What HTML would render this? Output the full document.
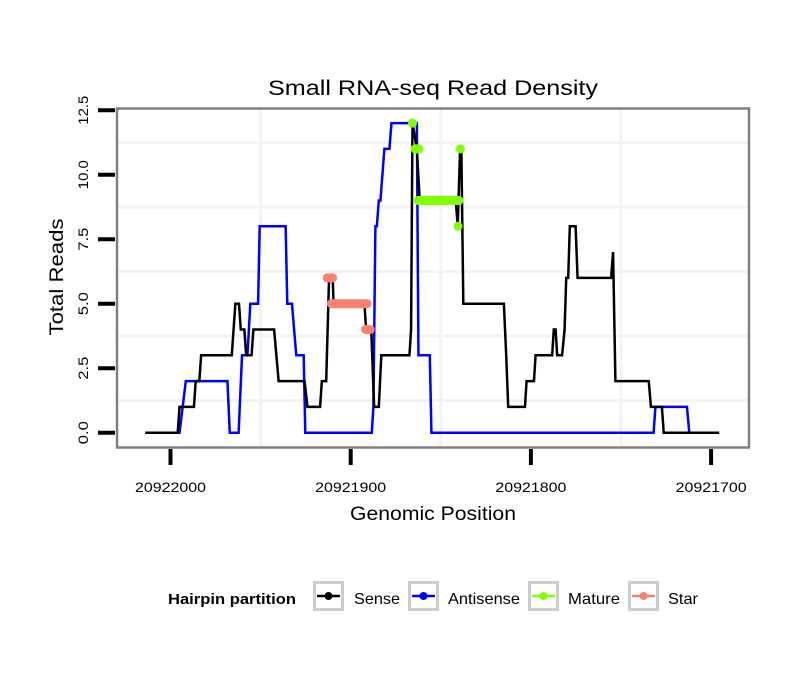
<!DOCTYPE html>
<html><head><meta charset="utf-8"><style>
body{margin:0;background:#fff;}
svg{display:block;font-family:"Liberation Sans",sans-serif;}
</style></head><body>
<svg id="chart" width="810" height="690" viewBox="0 0 810 690" xmlns="http://www.w3.org/2000/svg">
<rect x="0" y="0" width="810" height="690" fill="#fff"/>
<text x="433" y="95" font-size="21" text-anchor="middle" textLength="330" lengthAdjust="spacingAndGlyphs">Small RNA-seq Read Density</text>
<g id="grid"></g>
<g id="series"></g>
<rect x="117" y="108.5" width="632" height="339" fill="none" stroke="#808080" stroke-width="2.5"/>
<g id="axes"></g>
<text transform="translate(63,277) rotate(-90)" font-size="19" text-anchor="middle" textLength="117" lengthAdjust="spacingAndGlyphs">Total Reads</text>
<text x="433" y="520" font-size="19" text-anchor="middle" textLength="166" lengthAdjust="spacingAndGlyphs">Genomic Position</text>
<g id="legend">
<text x="168" y="604" font-size="15" font-weight="bold" textLength="128" lengthAdjust="spacingAndGlyphs">Hairpin partition</text>
</g>
</svg>
<script>
const xTicks=[20922000,20921900,20921800,20921700];
const xMinor=[20921950,20921850,20921750];
const yTicks=[0,2.5,5,7.5,10,12.5];
const yTickLabels=["0.0","2.5","5.0","7.5","10.0","12.5"];
const yMinor=[1.25,3.75,6.25,8.75,11.25];
const sensePos=[20922014,20921996,20921995,20921987,20921986,20921984,20921983,20921966,20921964,20921962,20921961,20921959,20921958,20921955,20921954,20921942.5,20921940,20921925.6,20921924,20921917,20921916,20921913.6,20921912,20921910,20921909.5,20921892.4,20921891.4,20921888.6,20921887,20921884.4,20921883,20921867.4,20921866.5,20921865.7,20921863.3,20921861.7,20921841.7,20921840.6,20921839.3,20921838.6,20921837.5,20921815,20921813.7,20921812.6,20921803.3,20921802.4,20921798.3,20921797.4,20921788.2,20921787.3,20921786.3,20921785.4,20921782.7,20921781.3,20921780.4,20921779.3,20921778.4,20921775.2,20921774.1,20921755.5,20921754.4,20921753.1,20921734.6,20921733.4,20921727.3,20921726.3,20921695.5];
const senseVal=[0,0,1,1,2,2,3,3,5,5,4,4,3,3,4,4,2,2,1,1,2,2,6,6,5,5,4,4,1,1,3,3,4,12,11,9,9,8,11,11,5,5,3,1,1,2,2,3,3,4,4,3,3,4,6,6,8,8,6,6,7,2,2,1,1,0,0];
const antiPos=[20922014,20921995,20921991.5,20921968.4,20921967.1,20921962.2,20921960.3,20921957.3,20921955.7,20921951.4,20921950.5,20921936.1,20921935.2,20921932.6,20921930.2,20921926.1,20921925.2,20921888.3,20921887.4,20921886.3,20921885.5,20921884.4,20921883.5,20921881.3,20921878.5,20921877.4,20921863.3,20921862.4,20921856.1,20921855.2,20921731.9,20921730.9,20921713.4,20921712.1];
const antiVal=[0,0,2,2,0,0,3,3,5,5,8,8,5,5,3,3,0,0,1,8,8,9,9,11,11,12,12,3,3,0,0,1,1,0];
const maturePos=[[20921865.7],[20921864.3,20921862.1],[20921862.6,20921839.9],[20921840.4],[20921839.1]];
const matureVal=[[12],[11,11],[9,9],[8],[11]];
const starPos=[[20921913,20921910],[20921910.8,20921890.9],[20921891.7,20921889.2]];
const starVal=[[6,6],[5,5],[4,4]];
const legendLabels=["Sense","Antisense","Mature","Star"];
const legendColors=["#000000","#0000ff","#7fff00","#fa8072"];

const NS="http://www.w3.org/2000/svg";
function X(p){return 170.5+(20922000-p)*1.802;}
function Y(v){return 432.7-v*25.8;}
function mk(tag,attrs,parent){const e=document.createElementNS(NS,tag);for(const k in attrs)e.setAttribute(k,attrs[k]);parent.appendChild(e);return e;}
const grid=document.getElementById('grid'),axes=document.getElementById('axes'),series=document.getElementById('series'),legend=document.getElementById('legend');
yMinor.forEach(v=>{const l=mk('line',{x1:118,x2:748,y1:Y(v),y2:Y(v),stroke:'#f3f3f3','stroke-width':3},grid);

});
xMinor.forEach(p=>{const l=mk('line',{x1:X(p),x2:X(p),y1:109,y2:446,stroke:'#f3f3f3','stroke-width':3},grid);

});
yTicks.forEach((v,i)=>{const t=mk('line',{x1:98,x2:115,y1:Y(v),y2:Y(v),stroke:'#000','stroke-width':4},axes);


const len=yTickLabels[i].length===4?29:23;
const tx=mk('text',{transform:`translate(88,${Y(v)}) rotate(-90)`,'font-size':14,'text-anchor':'middle',textLength:len,lengthAdjust:'spacingAndGlyphs'},axes);tx.textContent=yTickLabels[i];

});
xTicks.forEach(p=>{const t=mk('line',{x1:X(p),x2:X(p),y1:449,y2:465,stroke:'#000','stroke-width':4},axes);


const tx=mk('text',{x:X(p),y:492,'font-size':14,'text-anchor':'middle',textLength:71,lengthAdjust:'spacingAndGlyphs'},axes);tx.textContent=p;

});
function line(pos,val,color,name){const pts=pos.map((p,i)=>X(p)+','+Y(val[i])).join(' ');
const pl=mk('polyline',{points:pts,fill:'none',stroke:color,'stroke-width':2.5,'stroke-linejoin':'miter'},series);

}
line(antiPos,antiVal,'#0000ff','antisense-line');
line(sensePos,senseVal,'#000000','sense-line');
function pts(groups,vals,color,name){groups.forEach((g,gi)=>{
if(g.length===1){const c=mk('circle',{cx:X(g[0]),cy:Y(vals[gi][0]),r:4.5,fill:color},series);

}
else{const l=mk('line',{x1:X(g[0]),y1:Y(vals[gi][0]),x2:X(g[g.length-1]),y2:Y(vals[gi][g.length-1]),stroke:color,'stroke-width':9,'stroke-linecap':'round'},series);

}});}
pts(starPos,starVal,'#fa8072','star-points');
pts(maturePos,matureVal,'#7fff00','mature-points');
const boxX=[313,408,528,628],textX=[354,448,568,668],textW=[46,72,52,30];
legendLabels.forEach((lab,i)=>{
const b=mk('rect',{x:boxX[i]+1.5,y:582.5,width:28,height:27,fill:'#fff',stroke:'#cccccc','stroke-width':3},legend);


mk('line',{x1:boxX[i]+4,x2:boxX[i]+27,y1:596,y2:596,stroke:legendColors[i],'stroke-width':2.5},legend);
mk('circle',{cx:boxX[i]+15.5,cy:596,r:4,fill:legendColors[i]},legend);
const t=mk('text',{x:textX[i],y:604,'font-size':16,textLength:textW[i],lengthAdjust:'spacingAndGlyphs'},legend);t.textContent=lab;

});
</script>
</body></html>
